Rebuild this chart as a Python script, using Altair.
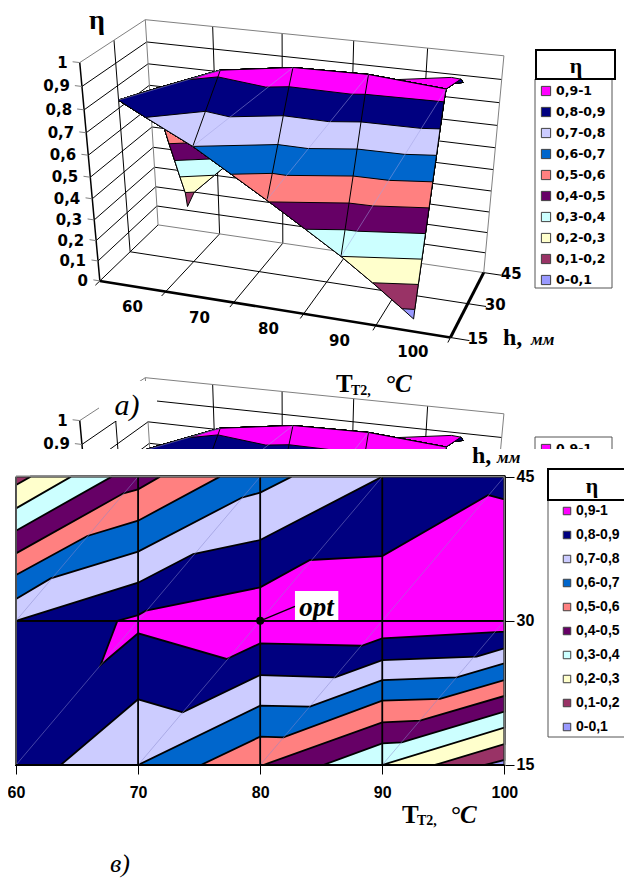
import altair as alt
import numpy as np
import pandas as pd

LEVELS = [0.1, 0.2, 0.3, 0.4, 0.5, 0.6, 0.7, 0.8, 0.9]
BAND_COLORS = ["#9999FF", "#993366", "#FFFFCC", "#CCFFFF", "#660066",
               "#FF8080", "#0066CC", "#CCCCFF", "#000080", "#FF00FF"]
LEGEND_LABELS = ["0,9-1", "0,8-0,9", "0,7-0,8", "0,6-0,7", "0,5-0,6",
                 "0,4-0,5", "0,3-0,4", "0,2-0,3", "0,1-0,2", "0-0,1"]
T_TICKS = [60, 70, 80, 90, 100]
H_TICKS = [15, 30, 45]
ETA_TICKS = [0, 0.1, 0.2, 0.3, 0.4, 0.5, 0.6, 0.7, 0.8, 0.9, 1]
ETA_LABELS = ["0", "0,1", "0,2", "0,3", "0,4", "0,5", "0,6", "0,7", "0,8", "0,9", "1"]

# contour lines (T, h): front side of the ridge (h < 30)
FRONT = {
    0.1: [(98.41, 15), (100, 15.52)],
    0.2: [(94.32, 15), (100, 17.18)],
    0.3: [(90, 15), (100, 18.88)],
    0.4: [(85.17, 15), (90, 17.25), (91.59, 17.36), (100, 20.55)],
    0.5: [(80.26, 15), (90, 19.44), (93.09, 19.61), (100, 22.18)],
    0.6: [(75.15, 15), (80, 17.95), (81.9, 17.88), (90, 21.69), (94.73, 21.87), (100, 23.84)],
    0.7: [(70, 15), (80, 21.17), (84.08, 21.07), (90, 23.84), (96.09, 24.12), (100, 25.58)],
    0.8: [(63.66, 15), (70, 21.83), (73.65, 20.48), (80, 24.36), (86.13, 24.12), (90, 25.92),
          (97.73, 26.27), (100, 27.14)],
    0.9: [(68.3, 30), (66.93, 25.4), (70, 28.7), (77.25, 26.03), (80, 27.66), (88.31, 27.41),
          (90, 28.18), (100, 28.87)],
}
# contour lines (T, h): back side of the ridge (h > 30)
BACK = {
    0.2: [(60, 44.13), (61.2, 45)],
    0.3: [(60, 41.7), (64.51, 45)],
    0.4: [(60, 39.38), (67.84, 45)],
    0.5: [(60, 37.02), (68.8, 43.27), (70, 43.68), (71.8, 45)],
    0.6: [(60, 34.77), (65.84, 38.83), (70, 40.42), (76.7, 45)],
    0.7: [(60, 32.27), (62.84, 34.42), (70, 37.2), (78.48, 42.81), (80, 43.34), (82.58, 45)],
    0.8: [(60, 30), (70, 33.97), (74.52, 36.95), (80, 38.41), (90, 45)],
    0.9: [(68.3, 30), (70, 30.6), (70.65, 31.06), (80, 33.48), (84.08, 36.33), (90, 36.74),
          (98.68, 43.09), (100, 42.64)],
}
# surface values at the grid
RIDGE = [(100, 0.945), (90, 0.97), (80, 0.965), (70, 0.92), (68.3, 0.9), (60, 0.8)]
ETA_H15 = {60: 0.86, 70: 0.7, 80: 0.51, 90: 0.3, 100: 0.06}
ETA_H30 = {60: 0.8, 70: 0.92, 80: 0.965, 90: 0.97, 100: 0.945}
ETA_T60_H45 = 0.12
ETA_T100_H45 = 0.87

# perspective box: normalised (u, v, w) against where the box corners sit
BOX_3D = [(0, 0, 0), (1, 0, 0), (1, 1, 0), (0, 1, 0), (0, 0, 1), (0, 1, 1), (1, 1, 1)]
BOX_2D = [(100, 281), (450, 338), (484, 272), (158, 225), (80, 62), (145, 20), (504, 56)]


def fit_camera():
    rows = []
    for (u, v, w), (x, y) in zip(BOX_3D, BOX_2D):
        rows.append([u, v, w, 1, 0, 0, 0, 0, -x * u, -x * v, -x * w, -x])
        rows.append([0, 0, 0, 0, u, v, w, 1, -y * u, -y * v, -y * w, -y])
    _, _, vt = np.linalg.svd(np.array(rows, float))
    return vt[-1].reshape(3, 4)


CAM = fit_camera()


def proj_uvw(u, v, w):
    p = CAM @ np.array([u, v, w, 1.0])
    return p[0] / p[2], p[1] / p[2]


def proj(T, h, eta):
    return proj_uvw(0.1 + 0.8 * (T - 60) / 40, (h - 15) / 30, eta)


# perimeters, with the level each point is on
right_front = [(FRONT[l][-1][0], FRONT[l][-1][1], l) for l in LEVELS]
bottom_edge = [(60, 15, ETA_H15[60])] + [(FRONT[l][0][0], FRONT[l][0][1], l) for l in reversed(LEVELS[:-1])] + [(100, 15, ETA_H15[100])]
ridge = [(t, 30, e) for t, e in RIDGE]
PERIM_FRONT = right_front + ridge + bottom_edge
left_back = [(60, 30, 0.8)] + [(BACK[l][0][0], BACK[l][0][1], l) for l in reversed(LEVELS[1:-2])]
top_edge = [(60, 45, ETA_T60_H45)] + [(BACK[l][-1][0], BACK[l][-1][1], l) for l in LEVELS[1:-1]] + [(100, 45, ETA_T100_H45)]
PERIM_BACK = top_edge + [(100, 42.64, 0.9)] + ridge + left_back

polys = []
pid = 0


def add_poly(line, level, perim, color):
    global pid
    pts = [(t, h, level) for t, h in line] + [p for p in perim if p[2] >= level]
    pts = pts + [pts[0]]
    for i, (t, h, e) in enumerate(pts):
        x, y = proj(t, h, e)
        polys.append(dict(poly=pid, ord=i, T=t, h=h, x=x, y=y, fill=color))
    pid += 1


add_poly([], 0.1, PERIM_BACK, BAND_COLORS[1])
for idx, l in enumerate(LEVELS):
    if l in BACK:
        add_poly(BACK[l], l, PERIM_BACK, BAND_COLORS[idx + 1])
add_poly([], 0.0, PERIM_FRONT, BAND_COLORS[0])
for idx, l in enumerate(LEVELS):
    add_poly(FRONT[l], l, PERIM_FRONT, BAND_COLORS[idx + 1])
POLY = pd.DataFrame(polys)

GRAY = "#808080"
BLACK = "#000000"
segs = []


def seg(a, b, stroke=BLACK, w=1.0):
    segs.append(dict(x=a[0], y=a[1], x2=b[0], y2=b[1], stroke=stroke, w=w))


for e in ETA_TICKS[1:-1]:
    seg(proj_uvw(0, 0, e), proj_uvw(0, 1, e))
    seg(proj_uvw(0, 1, e), proj_uvw(1, 1, e))
seg(proj_uvw(0, 0.5, 0), proj_uvw(0, 0.5, 1))
for u in [0.2, 0.4, 0.6, 0.8]:
    seg(proj_uvw(u, 1, 0), proj_uvw(u, 1, 1))
    seg(proj_uvw(u, 0, 0), proj_uvw(u, 1, 0))
seg(proj_uvw(0, 0.5, 0), proj_uvw(1, 0.5, 0))
seg(proj_uvw(0, 1, 0), proj_uvw(1, 1, 0), GRAY)
seg(proj_uvw(0, 0, 0), proj_uvw(0, 1, 0), BLACK)
seg(proj_uvw(0, 0, 1), proj_uvw(0, 1, 1), GRAY)
seg(proj_uvw(0, 1, 1), proj_uvw(1, 1, 1), GRAY)
seg(proj_uvw(0, 1, 0), proj_uvw(0, 1, 1), GRAY)
seg(proj_uvw(1, 1, 0), proj_uvw(1, 1, 1), GRAY)
seg(proj_uvw(0, 0, 0), proj_uvw(0, 0, 1), BLACK, 1.5)
seg(proj_uvw(0, 0, 0), proj_uvw(1, 0, 0), BLACK, 2.5)
seg(proj_uvw(1, 0, 0), proj_uvw(1, 1, 0), BLACK, 3)
for u in [0, 0.2, 0.4, 0.6, 0.8, 1]:
    seg(proj_uvw(u, 0, 0), proj_uvw(u, -0.07, 0))
for v in [0, 0.5, 1]:
    seg(proj_uvw(1, v, 0), proj_uvw(1.05, v, 0))
for e in ETA_TICKS:
    seg(proj_uvw(0, 0, e), proj_uvw(-0.02, 0, e), GRAY)
WALLS = pd.DataFrame(segs)

segs = []
for T in T_TICKS[1:-1]:
    chain = [(T, 15, ETA_H15[T])]
    for l in LEVELS:
        for t, h in FRONT[l]:
            if t == T and h > 15:
                chain.append((t, h, l))
    chain.append((T, 30, ETA_H30[T]))
    for a, b in zip(chain[:-1], chain[1:]):
        seg(proj(*a), proj(*b))
for a, b in zip(T_TICKS[:-1], T_TICKS[1:]):
    seg(proj(a, 15, ETA_H15[a]), proj(b, 30, ETA_H30[b]), "#A0A0E0", 0.5)
WIRES = pd.DataFrame(segs)

CSX = alt.Scale(domain=[8, 624], nice=False, zero=False)
CSY = alt.Scale(domain=[878, 8], nice=False, zero=False)
X = alt.X("x:Q", scale=CSX, axis=None)
Y = alt.Y("y:Q", scale=CSY, axis=None)
TS = alt.Scale(domain=[59.345, 109.8], nice=False, zero=False)
HS = alt.Scale(domain=[3.24, 93.77], nice=False, zero=False)
TX = alt.X("T:Q", scale=TS, axis=None)
HY = alt.Y("h:Q", scale=HS, axis=None)
SANS = "DejaVu Sans"
ARIAL = "Liberation Sans"
SERIF = "Liberation Serif"


def rules(df, dy=0):
    d = df.copy()
    d["y"] += dy
    d["y2"] += dy
    return alt.Chart(d).mark_rule().encode(
        x=X, y=Y, x2="x2:Q", y2="y2:Q",
        stroke=alt.Stroke("stroke:N", scale=None),
        strokeWidth=alt.StrokeWidth("w:Q", scale=None))


def surf(dy=0):
    d = POLY.copy()
    d["y"] += dy
    return alt.Chart(d).mark_line(strokeWidth=1, stroke=BLACK, interpolate="linear").encode(
        x=alt.X("x:Q", sort=None, scale=CSX, axis=None),
        y=alt.Y("y:Q", sort=None, scale=CSY, axis=None),
        detail="poly:N", order="ord:Q",
        fill=alt.Fill("fill:N", scale=None))


def text(rows, font, size, weight="bold", style="normal", align="left", color=BLACK, xe=X, ye=Y):
    return alt.Chart(pd.DataFrame(rows, columns=["x", "y", "t"])).mark_text(
        font=font, fontSize=size, fontWeight=weight, fontStyle=style, align=align,
        baseline="middle", color=color).encode(x=xe, y=ye, text="t:N")


def rect(x, x2, y, y2, fill="#FFFFFF", stroke=None, w=1.0):
    kw = dict(fill=fill)
    if stroke:
        kw.update(stroke=stroke, strokeWidth=w)
    else:
        kw.update(strokeWidth=0)
    return alt.Chart(pd.DataFrame([dict(x=x, x2=x2, y=y, y2=y2)])).mark_rect(**kw).encode(
        x=X, y=Y, x2="x2:Q", y2="y2:Q")


def swatches(x, ys, size):
    d = pd.DataFrame(dict(x=[x] * len(ys), y=ys, c=BAND_COLORS[::-1][:len(ys)]))
    return alt.Chart(d).mark_square(size=size, opacity=1, stroke="#404040", strokeWidth=1).encode(
        x=X, y=Y, fill=alt.Fill("c:N", scale=None))


def panel3d(dy):
    ghost = dy > 0
    eta_rows = []
    for e, s in zip(ETA_TICKS, ETA_LABELS):
        px, py = proj_uvw(0, 0, e)
        if not ghost or py + dy < 452:
            eta_rows.append((px - 12, py + dy, s))
    rows = [91 + 21 * i + dy for i in range(10)]
    rows = [r for r in rows if not ghost or r < 452]
    out = [
        rules(WALLS, dy), surf(dy), rules(WIRES, dy),
        text(eta_rows, SANS, 15, align="right"),
        rect(535, 612, 79 + dy, 288 + dy, stroke="#555555"),
    ]
    if not ghost:
        out += [rect(536, 615, 50, 79, stroke=BLACK, w=2),
                text([(576, 66, "η")], SERIF, 22, align="center")]
    out += [
        swatches(546, rows, 85),
        text([(556, r, s) for r, s in zip(rows, LEGEND_LABELS)], SANS, 12.5),
    ]
    return out


layers = panel3d(358)
layers.append(rect(99, 157, 381, 421))
layers.append(text([(127, 406, "а)")], SERIF, 30, weight="normal", style="italic", align="center"))
layers.append(rect(8, 624, 449, 878))
layers.append(text([(472, 456, "h,")], SERIF, 24))
layers.append(text([(497, 458, "мм")], SERIF, 17, style="italic"))
layers += panel3d(0)

t_rows = []
for T in T_TICKS:
    px, py = proj(T, 15, 0)
    t_rows.append((px, py + 21, str(T)))
d_rows = []
for h in H_TICKS:
    px, py = proj_uvw(1, (h - 15) / 30, 0)
    d_rows.append((px + 17, py + 1, str(h)))
layers += [
    text(t_rows, SANS, 15, align="center"),
    text(d_rows, SANS, 15),
    text([(97, 21, "η")], SERIF, 28, align="center"),
    text([(503, 338, "h,")], SERIF, 24),
    text([(531, 340, "мм")], SERIF, 17, style="italic"),
    text([(336, 384, "T")], SERIF, 25),
    text([(351, 391, "T2,")], SERIF, 14),
    text([(385, 384, "°C")], SERIF, 25, style="italic"),
]

# lower panel: real data scales and axes
d = POLY.copy()
layers.append(alt.Chart(d).mark_line(strokeWidth=1.8, stroke=BLACK).encode(
    x=alt.X("T:Q", sort=None, scale=TS,
            axis=alt.Axis(values=T_TICKS, orient="bottom", offset=-113, domain=False, grid=False,
                          tickSize=9, tickColor=BLACK, labelPadding=10, title=None, zindex=1,
                          labelFont=ARIAL, labelFontWeight="bold", labelFontSize=16, labelColor=BLACK,
                          labelFlush=False, labelOverlap=False)),
    y=alt.Y("h:Q", sort=None, scale=HS,
            axis=alt.Axis(values=H_TICKS, orient="right", offset=-119, domain=False, grid=False,
                          tickSize=9, tickColor=BLACK, labelPadding=2, title=None, zindex=1,
                          labelFont=ARIAL, labelFontWeight="bold", labelFontSize=16, labelColor=BLACK,
                          labelFlush=False, labelOverlap=False)),
    detail="poly:N", order="ord:Q", fill=alt.Fill("fill:N", scale=None)))

segs2 = []
for a, b in zip(T_TICKS[:-1], T_TICKS[1:]):
    segs2.append(dict(T=a, h=15, T2=b, h2=30, stroke="#8888CC", w=0.5))
    segs2.append(dict(T=a, h=30, T2=b, h2=45, stroke="#8888CC", w=0.5))
layers.append(alt.Chart(pd.DataFrame([dict(T=82.85, T2=86.4, h=30, h2=33.1)])).mark_rect(fill="#FFFFFF", strokeWidth=0).encode(
    x=TX, y=HY, x2="T2:Q", y2="h2:Q"))
for T in T_TICKS[1:-1]:
    segs2.append(dict(T=T, h=15, T2=T, h2=45, stroke=BLACK, w=1.8))
segs2.append(dict(T=60, h=30, T2=100, h2=30, stroke=BLACK, w=1.8))
segs2.append(dict(T=80, h=30, T2=82.85, h2=31.5, stroke=BLACK, w=1.2))
segs2.append(dict(T=60, h=45, T2=100, h2=45, stroke=GRAY, w=1.2))
segs2.append(dict(T=60, h=15, T2=60, h2=45, stroke=GRAY, w=1.2))
segs2.append(dict(T=100, h=15, T2=100, h2=45, stroke=GRAY, w=1.2))
segs2.append(dict(T=60, h=15, T2=100, h2=15, stroke=BLACK, w=2))
layers.append(alt.Chart(pd.DataFrame(segs2)).mark_rule().encode(
    x=TX, y=HY, x2="T2:Q", y2="h2:Q",
    stroke=alt.Stroke("stroke:N", scale=None), strokeWidth=alt.StrokeWidth("w:Q", scale=None)))
layers.append(alt.Chart(pd.DataFrame([dict(T=80, h=30)])).mark_point(filled=True, size=64, color=BLACK, opacity=1).encode(x=TX, y=HY))
layers.append(text([(316.5, 608, "opt")], SERIF, 27, style="italic", align="center"))

rows2 = [511 + 24 * i for i in range(10)]
layers += [
    rect(548, 640, 500, 737, stroke="#555555"),
    rect(548, 640, 469, 500, stroke=BLACK, w=2),
    text([(592, 486, "η")], SERIF, 22, align="center"),
    swatches(567, rows2, 56),
    text([(576, r, s) for r, s in zip(rows2, LEGEND_LABELS)], ARIAL, 14),
    text([(402, 815, "T")], SERIF, 25),
    text([(417, 821, "T2,")], SERIF, 14),
    text([(450, 815, "°C")], SERIF, 25, style="italic"),
    text([(120, 864, "в)")], SERIF, 26, weight="normal", style="italic", align="center"),
]

chart = alt.layer(*layers).resolve_scale(x="independent", y="independent").properties(
    width=616, height=870, padding=0, autosize=alt.AutoSizeParams(type="none")
).configure_view(stroke=None)

chart.save("out.html", embed_options={"renderer": "svg", "actions": False})
